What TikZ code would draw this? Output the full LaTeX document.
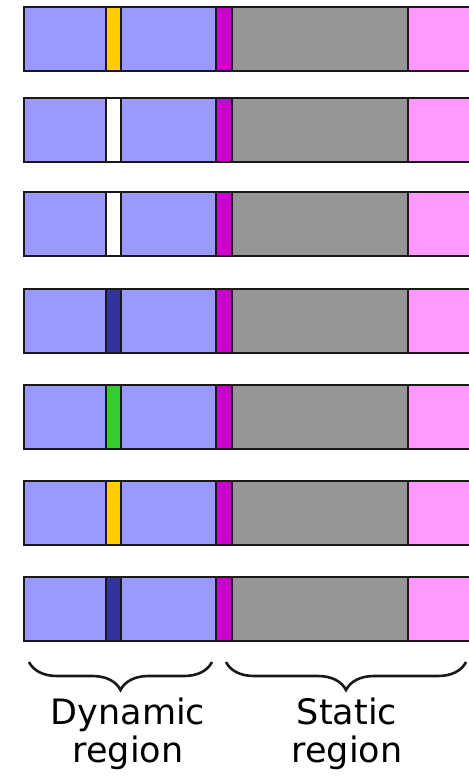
\documentclass[tikz,border=0pt]{standalone}
\usepackage{fontspec}
\setmainfont{DejaVu Sans}
\usetikzlibrary{decorations.pathreplacing}
\definecolor{lavender}{RGB}{153,153,255}
\definecolor{amber}{RGB}{255,204,0}
\definecolor{violet}{RGB}{204,0,204}
\definecolor{ash}{RGB}{150,150,150}
\definecolor{blush}{RGB}{255,153,255}
\definecolor{navy}{RGB}{51,51,153}
\definecolor{leaf}{RGB}{51,204,51}
\definecolor{ink}{RGB}{25,25,25}
\tikzset{
  x=1pt,y=1pt,
  seg/.style={fill=#1,draw=ink,line width=2pt},
  seg/.default=lavender,
  curly/.style={decorate,decoration={brace,amplitude=28pt,mirror},draw=ink,line width=2.6pt},
  tag/.style={font=\fontsize{35}{38}\selectfont,align=center,inner sep=0pt,anchor=north},
}
\begin{document}
\begin{tikzpicture}
  \useasboundingbox (0,0) rectangle (468,-778);
  % one bar per row: dynamic slots, marker, static part
  \foreach \t/\c [count=\r] in {7/amber,98/white,192/white,289/navy,385/leaf,481/amber,577/navy} {
    \draw[seg] (24,-\t) rectangle (106,-\t-64);
    \draw[seg=\c] (106,-\t) rectangle (121,-\t-64);
    \draw[seg] (121,-\t) rectangle (216,-\t-64);
    \draw[seg=violet] (216,-\t) rectangle (232,-\t-64);
    \draw[seg=ash] (232,-\t) rectangle (408,-\t-64);
    \draw[seg=blush] (408,-\t) rectangle (472,-\t-64);
  }
  \coordinate (dynL) at (29,-662);
  \coordinate (dynR) at (212,-662);
  \coordinate (staL) at (226,-662);
  \coordinate (staR) at (466,-662);
  \draw[curly] (dynL) -- (dynR);
  \draw[curly] (staL) -- (staR);
  \node[tag] (dyn) at (128,-698) {Dynamic\\region};
  \node[tag] (sta) at (347,-698) {Static\\region};
\end{tikzpicture}
\end{document}
